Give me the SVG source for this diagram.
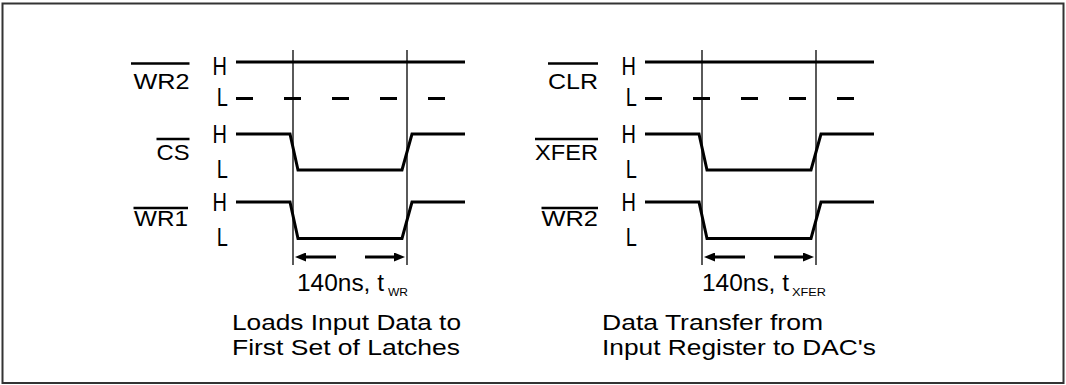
<svg xmlns="http://www.w3.org/2000/svg" width="1066" height="385" viewBox="0 0 1066 385">
<style>
text{font-family:"Liberation Sans",Arial,Helvetica,sans-serif;fill:#000}
.nm{font-size:22px;text-anchor:end}
.hl{font-size:20px;text-anchor:end}
.cap{font-size:24px}
.cap2{font-size:22px}
.sub{font-size:11px}
.sig{fill:none;stroke:#000;stroke-width:3;stroke-linejoin:miter}
.dash{fill:none;stroke:#000;stroke-width:3;stroke-dasharray:17 31}
.bar{stroke:#000;stroke-width:2.5}
.vl{stroke:#000;stroke-width:1.3}
.ar{stroke:#000;stroke-width:3;marker-end:url(#ah)}
</style>
<defs>
<marker id="ah" markerUnits="userSpaceOnUse" markerWidth="11" markerHeight="9" refX="3" refY="4.5" orient="auto">
<path d="M0,0 L11,4.5 L0,9 z" fill="#000"/>
</marker>
</defs>
<rect width="1066" height="385" fill="#fff"/>
<rect id="frame" x="2.5" y="3.5" width="1061" height="379.5" fill="none" stroke="#333" stroke-width="2"/>

<!-- Left panel -->
<g id="left-wr2">
<line class="bar" x1="131" y1="63.5" x2="189.5" y2="63.5"/>
<text class="nm" x="189.5" y="89" textLength="56" lengthAdjust="spacingAndGlyphs">WR2</text>
<text class="hl" transform="translate(227,75) scale(1,1.3)">H</text>
<text class="hl" transform="translate(228,106) scale(1,1.3)">L</text>
<path class="sig" d="M236 62 H465"/>
<path class="dash" d="M236 98.5 H446"/>
</g>
<g id="left-cs">
<line class="bar" x1="156.5" y1="139" x2="189.5" y2="139"/>
<text class="nm" x="189.5" y="160" textLength="33" lengthAdjust="spacingAndGlyphs">CS</text>
<text class="hl" transform="translate(227,143) scale(1,1.3)">H</text>
<text class="hl" transform="translate(228,178) scale(1,1.3)">L</text>
<path class="sig" d="M236 134 H290 L298 170 H402 L412 134 H465"/>
</g>
<g id="left-wr1">
<line class="bar" x1="133.5" y1="208" x2="188" y2="208"/>
<text class="nm" x="188" y="226" textLength="54" lengthAdjust="spacingAndGlyphs">WR1</text>
<text class="hl" transform="translate(227,211) scale(1,1.3)">H</text>
<text class="hl" transform="translate(228,246) scale(1,1.3)">L</text>
<path class="sig" d="M236 202 H290 L298 238.5 H402 L412 202 H465"/>
</g>
<g id="left-timing-label">
<text class="cap" x="297" y="291" textLength="87" lengthAdjust="spacingAndGlyphs">140ns, t</text>
<text class="sub" x="388" y="296" textLength="20" lengthAdjust="spacingAndGlyphs">WR</text>
</g>
<g id="left-caption">
<text class="cap2" x="232" y="330" textLength="229" lengthAdjust="spacingAndGlyphs">Loads Input Data to</text>
<text class="cap2" x="232" y="355" textLength="228" lengthAdjust="spacingAndGlyphs">First Set of Latches</text>
</g>

<!-- Right panel -->
<g id="right-clr">
<line class="bar" x1="548" y1="63.5" x2="598" y2="63.5"/>
<text class="nm" x="598" y="89" textLength="50" lengthAdjust="spacingAndGlyphs">CLR</text>
<text class="hl" transform="translate(636,75) scale(1,1.3)">H</text>
<text class="hl" transform="translate(637,106) scale(1,1.3)">L</text>
<path class="sig" d="M645 62 H874"/>
<path class="dash" d="M645 98.5 H855"/>
</g>
<g id="right-xfer">
<line class="bar" x1="535" y1="139" x2="598" y2="139"/>
<text class="nm" x="598" y="160" textLength="63" lengthAdjust="spacingAndGlyphs">XFER</text>
<text class="hl" transform="translate(636,143) scale(1,1.3)">H</text>
<text class="hl" transform="translate(637,178) scale(1,1.3)">L</text>
<path class="sig" d="M645 134 H699 L707 170 H811 L821 134 H874"/>
</g>
<g id="right-wr2">
<line class="bar" x1="541.5" y1="208" x2="598" y2="208"/>
<text class="nm" x="598" y="226" textLength="56.5" lengthAdjust="spacingAndGlyphs">WR2</text>
<text class="hl" transform="translate(636,211) scale(1,1.3)">H</text>
<text class="hl" transform="translate(637,246) scale(1,1.3)">L</text>
<path class="sig" d="M645 202 H699 L707 238.5 H811 L821 202 H874"/>
</g>
<g id="right-timing-label">
<text class="cap" x="702" y="291" textLength="87" lengthAdjust="spacingAndGlyphs">140ns, t</text>
<text class="sub" x="792" y="296" textLength="34" lengthAdjust="spacingAndGlyphs">XFER</text>
</g>
<g id="right-caption">
<text class="cap2" x="602" y="330" textLength="221" lengthAdjust="spacingAndGlyphs">Data Transfer from</text>
<text class="cap2" x="602" y="355" textLength="274" lengthAdjust="spacingAndGlyphs">Input Register to DAC's</text>
</g>

<g id="connectors">
<line class="vl" x1="293" y1="50" x2="293" y2="265"/>
<line class="vl" x1="407" y1="50" x2="407" y2="265"/>
<line class="ar" x1="336" y1="257" x2="303" y2="257"/>
<line class="ar" x1="365" y1="257" x2="397" y2="257"/>
<line class="vl" x1="702" y1="50" x2="702" y2="265"/>
<line class="vl" x1="816" y1="50" x2="816" y2="265"/>
<line class="ar" x1="745" y1="257" x2="712" y2="257"/>
<line class="ar" x1="774" y1="257" x2="806" y2="257"/>
</g>
</svg>
